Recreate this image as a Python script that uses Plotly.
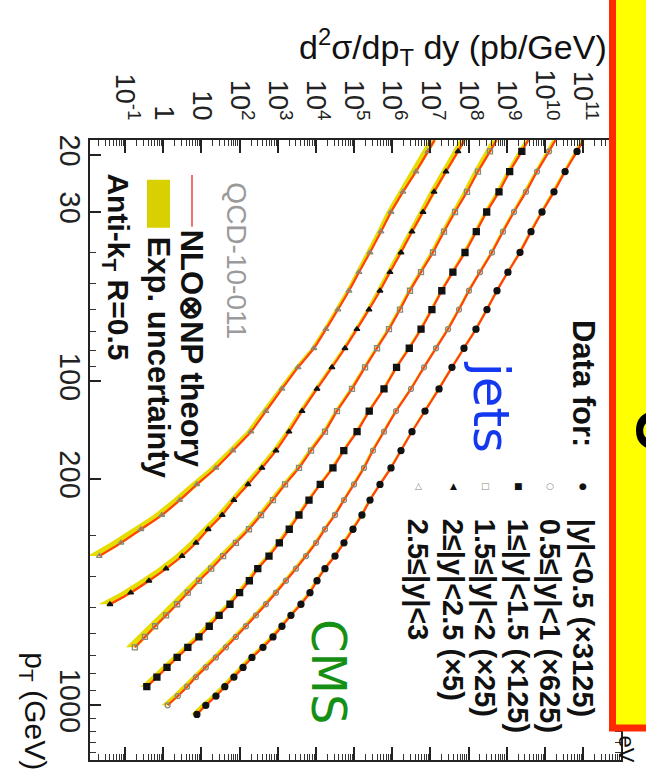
import plotly.graph_objects as go

# ---------------- data ----------------
pt_bins = [19.5, 22.5, 26, 30, 34.5, 40, 46, 52.5, 60, 69, 79, 90.5, 105.5, 123.5, 143,
           163.5, 185, 208, 232.5, 258.5, 286, 315, 346, 378.5, 412.5, 449, 487.5, 527.5,
           570, 615, 662, 711.5, 763.5, 818, 875.5, 936, 999.5, 1066.5]
pt_theory_start = 18

series_labels = ["|y|<0.5 (×3125)", "0.5≤|y|<1 (×625)", "1≤|y|<1.5 (×125)",
                 "1.5≤|y|<2 (×25)", "2≤|y|<2.5 (×5)", "2.5≤|y|<3"]

xsec_y0 = [7.0e10, 3.4e10, 1.74e10, 8.45e9, 4.35e9, 2.24e9, 1.08e9, 5.59e8, 3.05e8, 1.57e8,
           7.62e7, 3.69e7, 1.69e7, 7.24e6, 3.30e6, 1.70e6, 9.31e5, 4.79e5, 2.62e5, 1.61e5,
           9.38e4, 5.45e4, 3.17e4, 1.73e4, 1.07e4, 7.00e3, 4.06e3, 2.22e3, 1.29e3, 750,
           410, 211, 123, 71, 41, 24, 13, 7.6]
xsec_y1 = [1.29e10, 6.25e9, 3.22e9, 1.56e9, 8.02e8, 4.13e8, 2.00e8, 1.03e8, 5.64e7, 2.90e7,
           1.41e7, 6.82e6, 3.11e6, 1.26e6, 6.10e5, 3.14e5, 1.82e5, 9.97e4, 5.45e4, 3.17e4,
           1.73e4, 1.01e4, 5.50e3, 3.01e3, 1.64e3, 900, 492, 269, 147, 80,
           44, 24, 13, 7.2, 4.2, 2.4, 1.3]
xsec_y2 = [2.5e9, 1.2e9, 6.3e8, 3.0e8, 1.6e8, 8.1e7, 3.9e7, 2.0e7, 1.1e7, 5.7e6,
           2.8e6, 1.3e6, 6.1e5, 2.5e5, 1.2e5, 5.4e4, 2.8e4, 1.3e4, 6.6e3, 3.6e3,
           2.0e3, 1.1e3, 590, 300, 180, 100, 56, 29, 16, 8.6,
           4.4, 2.3, 1.25, 0.68, 0.37]
xsec_y3 = [3.66e8, 1.77e8, 9.14e7, 4.43e7, 2.28e7, 1.17e7, 5.69e6, 2.93e6, 1.60e6, 8.24e5,
           4.00e5, 1.94e5, 8.83e4, 3.57e4, 1.73e4, 7.45e3, 3.61e3, 1.55e3, 750, 364,
           176, 80, 37, 18, 8.6, 4.4, 2.3, 1.18, 0.61, 0.33, 0.18]
xsec_y4 = [5.31e7, 2.57e7, 1.25e7, 6.42e6, 3.30e6, 1.70e6, 8.75e5, 4.79e5, 2.47e5, 1.19e5,
           5.79e4, 2.64e4, 1.07e4, 4.33e3, 1.97e3, 900, 386, 166, 71, 35,
           15, 7.2, 3.1, 1.18, 0.42, 0.14, 0.040]
xsec_y5 = [8.67e6, 4.21e6, 1.92e6, 9.31e5, 5.08e5, 2.62e5, 1.35e5, 7.38e4, 3.79e4, 1.84e4,
           8.91e3, 3.40e3, 1.29e3, 492, 199, 67, 24, 7.6, 2.7, 0.92,
           0.26, 0.078, 0.021]

theory_at_start = [1.03e11, 1.9e10, 3.7e9, 5.4e8, 7.9e7, 1.29e7]

unc_y0 = [0.16, 0.15, 0.14, 0.13, 0.12, 0.11, 0.11, 0.10, 0.10, 0.10, 0.10, 0.10, 0.10, 0.10,
          0.10, 0.10, 0.11, 0.11, 0.11, 0.12, 0.12, 0.13, 0.13, 0.14, 0.14, 0.15, 0.16, 0.17,
          0.18, 0.19, 0.20, 0.21, 0.22, 0.23, 0.24, 0.26, 0.28, 0.30]
unc_y1 = [0.18, 0.16, 0.15, 0.14, 0.13, 0.12, 0.12, 0.11, 0.11, 0.11, 0.11, 0.11, 0.11, 0.11,
          0.11, 0.12, 0.12, 0.12, 0.13, 0.13, 0.14, 0.14, 0.15, 0.15, 0.16, 0.17, 0.18, 0.19,
          0.20, 0.21, 0.22, 0.23, 0.24, 0.25, 0.27, 0.29, 0.31]
unc_y2 = [0.20, 0.18, 0.17, 0.16, 0.15, 0.14, 0.13, 0.12, 0.12, 0.12, 0.12, 0.12, 0.12, 0.12,
          0.13, 0.13, 0.14, 0.14, 0.15, 0.15, 0.16, 0.17, 0.18, 0.19, 0.20, 0.21, 0.22, 0.23,
          0.24, 0.25, 0.26, 0.27, 0.28, 0.30, 0.32]
unc_y3 = [0.26, 0.24, 0.22, 0.20, 0.18, 0.17, 0.16, 0.15, 0.14, 0.14, 0.14, 0.14, 0.15, 0.15,
          0.16, 0.17, 0.18, 0.19, 0.20, 0.21, 0.22, 0.24, 0.26, 0.28, 0.30, 0.32, 0.34, 0.36,
          0.38, 0.40, 0.42]
unc_y4 = [0.28, 0.26, 0.24, 0.22, 0.20, 0.18, 0.17, 0.16, 0.15, 0.15, 0.15, 0.16, 0.17, 0.18,
          0.20, 0.22, 0.24, 0.26, 0.28, 0.30, 0.32, 0.35, 0.38, 0.41, 0.44, 0.47, 0.50]
unc_y5 = [0.30, 0.28, 0.26, 0.24, 0.22, 0.20, 0.18, 0.17, 0.16, 0.16, 0.17, 0.18, 0.20, 0.22,
          0.25, 0.28, 0.31, 0.34, 0.37, 0.40, 0.44, 0.48, 0.52]

sigma_tick_vals = [1e-1, 1, 1e1, 1e2, 1e3, 1e4, 1e5, 1e6, 1e7, 1e8, 1e9, 1e10, 1e11]
sigma_tick_text = ["10<sup>-1</sup>", "1", "10", "10<sup>2</sup>", "10<sup>3</sup>",
                   "10<sup>4</sup>", "10<sup>5</sup>", "10<sup>6</sup>", "10<sup>7</sup>",
                   "10<sup>8</sup>", "10<sup>9</sup>", "10<sup>10</sup>", "10<sup>11</sup>"]
pt_tick_vals = [20, 30, 100, 200, 1000]
pt_tick_text = ["20", "30", "100", "200", "1000"]

# ---------------- styling ----------------
series = [xsec_y0, xsec_y1, xsec_y2, xsec_y3, xsec_y4, xsec_y5]
uncs = [unc_y0, unc_y1, unc_y2, unc_y3, unc_y4, unc_y5]
symbols = ["circle", "circle-open", "square", "square-open", "triangle-up", "triangle-up-open"]
sizes = [6, 5, 6, 5, 5, 5]
BLACK = "#111111"
GRAY = "#8a8a78"
mcolors = [BLACK, GRAY, BLACK, GRAY, BLACK, GRAY]
BAND = "#e6dc00"
LINE = "#ff4010"

W, H = 646, 771
L, R, T, B = 90, 621, 140, 762


def px(x):
    return (x - L) / (R - L)


def py(y):
    return (B - y) / (B - T)


fig = go.Figure()

for vals, unc, t0 in zip(series, uncs, theory_at_start):
    pts = [pt_theory_start] + pt_bins[:len(vals)]
    th = [t0] + vals
    uu = [unc[0]] + unc
    lo = [v * (1 - u) for v, u in zip(th, uu)]
    hi = [v * (1 + u / 3) for v, u in zip(th, uu)]
    fig.add_trace(go.Scatter(x=lo + hi[::-1], y=pts + pts[::-1], fill="toself",
                             fillcolor=BAND, line=dict(width=0), mode="lines",
                             hoverinfo="skip", showlegend=False))

for vals, t0 in zip(series, theory_at_start):
    pts = [pt_theory_start] + pt_bins[:len(vals)]
    fig.add_trace(go.Scatter(x=[t0] + vals, y=pts, mode="lines",
                             line=dict(color=LINE, width=2.2, shape="spline", smoothing=0.5),
                             showlegend=False))

for vals, sym, sz, mc in zip(series, symbols, sizes, mcolors):
    fig.add_trace(go.Scatter(x=vals, y=pt_bins[:len(vals)], mode="markers",
                             marker=dict(symbol=sym, size=sz, color=mc,
                                         line=dict(color=mc, width=1.3)),
                             showlegend=False))

FONT = "Liberation Sans, Arial, sans-serif"
TICKFONT = dict(family=FONT, size=27, color="#222")
sig_minor = [m * 10 ** e for e in range(-2, 12) for m in range(2, 10)]
pt_minor = [40, 50, 60, 70, 80, 90, 300, 400, 500, 600, 700, 800, 900, 1100, 1200, 1300, 1400]

fig.update_xaxes(type="log", range=[(L - 87) / 38.15 - 2, (R - 87) / 38.15 - 2],
                 side="top", tickmode="array", tickvals=sigma_tick_vals, ticktext=sigma_tick_text,
                 tickangle=90, tickfont=TICKFONT, ticks="inside", ticklen=13, tickwidth=1.5,
                 tickcolor="#222", mirror="allticks", showline=True, linecolor="#222",
                 linewidth=2, showgrid=False, zeroline=False, ticklabelstandoff=8,
                 minor=dict(tickvals=sig_minor, ticks="inside", ticklen=6, tickcolor="#333",
                            tickwidth=1, showgrid=False))
fig.update_yaxes(type="log", range=[1.3010 + (B - 155) / 325, 1.3010 - (155 - T) / 325],
                 tickmode="array", tickvals=pt_tick_vals, ticktext=pt_tick_text,
                 tickangle=90, tickfont=dict(family=FONT, size=29, color="#222"),
                 ticks="inside", ticklen=11, tickwidth=1.5, tickcolor="#222",
                 mirror="allticks", showline=True, linecolor="#222", linewidth=2,
                 showgrid=False, zeroline=False, ticklabelstandoff=-7,
                 minor=dict(tickvals=pt_minor, ticks="inside", ticklen=6, tickcolor="#333",
                            tickwidth=1, showgrid=False))

ann = []


def rot(text, x, ytop, size, color="#111", family=FONT):
    ann.append(dict(text=text, x=px(x), y=py(ytop), xref="paper", yref="paper",
                    xanchor="center", yanchor="top", textangle=90, showarrow=False,
                    font=dict(family=family, size=size, color=color)))


# axis titles
ann.append(dict(text="d<sup>2</sup>σ/dp<sub>T</sub> dy (pb/GeV)", x=px(609), y=py(47),
                xref="paper", yref="paper", xanchor="right", yanchor="middle",
                showarrow=False, font=dict(family=FONT, size=34, color="#111")))
rot("p<sub>T</sub> (GeV)", 34, 652, 30)

# left legend block
rot("QCD-10-011", 237, 180, 28, color="#9a9a9a")
rot("<b>NLO⊗NP theory</b>", 191, 228, 31)
rot("<b>Exp. uncertainty</b>", 158, 235, 31)
rot("<b>Anti-k<sub>T</sub> R=0.5</b>", 117, 171, 30)

# right legend block
rot("<b>Data for:</b>", 583, 318, 31)
leg_x = [583, 550, 518, 485, 453, 418]
leg_sym = ["●", "○", "■", "□", "▲", "△"]
for lab, lx, s, mc in zip(series_labels, leg_x, leg_sym, mcolors):
    rot("<b>" + lab + "</b>", lx, 518, 29)
    ann.append(dict(text=s, x=px(lx), y=py(487), xref="paper", yref="paper",
                    xanchor="center", yanchor="middle", showarrow=False,
                    font=dict(family="DejaVu Sans", size=9, color=mc)))

# handwritten labels
rot("jets", 491, 360, 50, color="#1438f0", family="DejaVu Sans")
rot("CMS", 329, 618, 48, color="#159015", family="DejaVu Sans")

shapes = [
    dict(type="line", xref="paper", yref="paper", x0=px(192), x1=px(192),
         y0=py(175), y1=py(227), line=dict(color="#f07070", width=2)),
    dict(type="rect", xref="paper", yref="paper", x0=px(147), x1=px(170),
         y0=py(228), y1=py(180), fillcolor="#d8d000", line=dict(width=0)),
    dict(type="rect", xref="paper", yref="paper", x0=px(612.5), x1=px(720),
         y0=py(730), y1=py(-40), fillcolor="#ffff00", layer="above",
         line=dict(color="#ff2a00", width=7)),
]

# overlay box and cut-off text
rot("J", 670, 408, 95, color="#000")
rot("eV", 626, 735, 22, color="#111")

fig.update_layout(width=W, height=H, margin=dict(l=L, r=W - R, t=T, b=H - B),
                  paper_bgcolor="white", plot_bgcolor="white", annotations=ann,
                  shapes=shapes, showlegend=False)

fig.write_html("out.html")
